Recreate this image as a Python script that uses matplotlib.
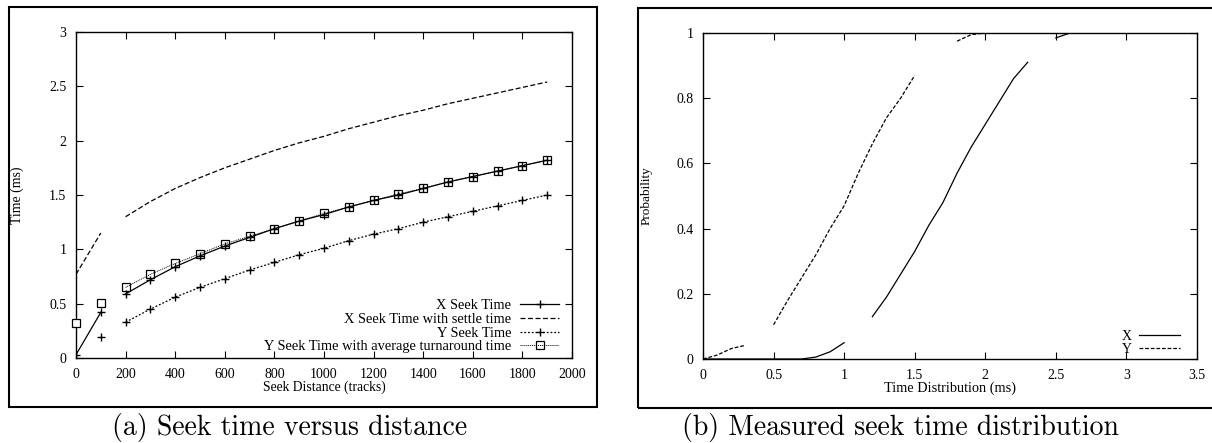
import numpy as np
import matplotlib
matplotlib.use("Agg")
import matplotlib.pyplot as plt
from matplotlib.patches import Rectangle
from matplotlib.ticker import FuncFormatter

# (a) seek time versus distance
dist_short = [0, 100]
dist = [200, 300, 400, 500, 600, 700, 800, 900, 1000, 1100,
        1200, 1300, 1400, 1500, 1600, 1700, 1800, 1900]

x_seek_short = [0.03, 0.42]
x_seek = [0.59, 0.72, 0.84, 0.94, 1.03, 1.11, 1.19, 1.26, 1.32, 1.39,
          1.45, 1.50, 1.56, 1.62, 1.67, 1.72, 1.77, 1.82]

x_settle_short = [0.77, 1.15]
x_settle = [1.30, 1.44, 1.56, 1.66, 1.75, 1.83, 1.91, 1.98, 2.04, 2.11,
            2.17, 2.23, 2.28, 2.34, 2.39, 2.44, 2.49, 2.54]

y_seek_short = [0.19]
y_seek = [0.33, 0.45, 0.56, 0.65, 0.73, 0.81, 0.88, 0.95, 1.01, 1.08,
          1.14, 1.19, 1.25, 1.30, 1.35, 1.40, 1.45, 1.50]

y_turn_short = [0.32, 0.51]
y_turn = [0.65, 0.77, 0.87, 0.96, 1.05, 1.12, 1.19, 1.26, 1.33, 1.39,
          1.45, 1.51, 1.56, 1.62, 1.67, 1.72, 1.77, 1.82]

# (b) measured seek time distribution (pieces of the curves as printed)
x_t1 = [0.0, 0.7, 0.8, 0.9, 1.0]
x_p1 = [0.0, 0.0, 0.006, 0.022, 0.05]
x_t2 = [1.2, 1.3, 1.4, 1.5, 1.6, 1.7, 1.8, 1.9, 2.0, 2.1, 2.2, 2.3]
x_p2 = [0.13, 0.19, 0.26, 0.33, 0.41, 0.48, 0.57, 0.65, 0.72, 0.79, 0.86, 0.91]
x_t3 = [2.5, 2.6, 3.5]
x_p3 = [0.985, 1.0, 1.0]

y_t1 = [0.0, 0.1, 0.2, 0.3]
y_p1 = [0.0, 0.012, 0.032, 0.042]
y_t2 = [0.5, 0.6, 0.7, 0.8, 0.9, 1.0, 1.1, 1.2, 1.3, 1.4, 1.5]
y_p2 = [0.105, 0.18, 0.25, 0.32, 0.40, 0.47, 0.57, 0.66, 0.74, 0.80, 0.87]
y_t3 = [1.8, 1.9, 2.0]
y_p3 = [0.975, 0.995, 1.0]

W, H = 1212, 443
plt.rcParams["font.family"] = "Liberation Serif"

fig = plt.figure(figsize=(W / 100, H / 100), dpi=100)


def frac(x0, y0, x1, y1):
    return [x0 / W, 1 - y1 / H, (x1 - x0) / W, (y1 - y0) / H]


def style(ax):
    ax.tick_params(direction="in", top=True, right=True, length=5,
                   width=0.8, labelsize=10, pad=7)
    for s in ax.spines.values():
        s.set_linewidth(1.0)


def num(v, pos):
    return "%g" % v


# frames around the panels
fig.patches.append(Rectangle((9 / W, 1 - 407 / H), 588 / W, 400 / H,
                             transform=fig.transFigure, fill=False,
                             lw=1.5, ec="black"))
fig.patches.append(Rectangle((638 / W, 1 - 408 / H), 590 / W, 400 / H,
                             transform=fig.transFigure, fill=False,
                             lw=1.5, ec="black", clip_on=False))

# ---- panel (a)
ax1 = fig.add_axes(frac(76, 32, 572, 358))
lw = 0.9
ms = 5.5
ax1.plot(dist_short, x_seek_short, color="black", lw=lw, marker="+", ms=ms)
ax1.plot(dist, x_seek, color="black", lw=lw, marker="+", ms=ms,
         label="X Seek Time")
ax1.plot(dist_short, x_settle_short, color="black", lw=lw, dashes=(4, 2))
ax1.plot(dist, x_settle, color="black", lw=lw, dashes=(4, 2),
         label="X Seek Time with settle time")
ax1.plot([100], y_seek_short, color="black", lw=0, marker="+", ms=ms)
ax1.plot(dist, y_seek, color="black", lw=lw, dashes=(1.5, 1.5), marker="+",
         ms=ms, label="Y Seek Time")
ax1.plot(dist_short, y_turn_short, color="black", lw=0, marker="s", ms=5.5,
         mfc="white", mew=0.9, clip_on=False, zorder=5)
ax1.plot(dist, y_turn, color="black", lw=0.7, dashes=(1, 1), marker="s",
         ms=5.5, mfc="none", mew=0.9,
         label="Y Seek Time with average turnaround time")
ax1.set_xlim(0, 2000)
ax1.set_ylim(0, 3)
ax1.set_xticks(np.arange(0, 2001, 200))
ax1.set_yticks(np.arange(0, 3.01, 0.5))
ax1.yaxis.set_major_formatter(FuncFormatter(num))
style(ax1)
ax1.set_xlabel("Seek Distance (tracks)", fontsize=9.8)
ax1.set_ylabel("Time (ms)", fontsize=10)
ax1.xaxis.set_label_coords(0.5, -0.07)
ax1.yaxis.set_label_coords(-0.105, 0.5)
ax1.legend(loc="lower right", bbox_to_anchor=(1 - 10 / 496, 2 / 326),
           frameon=False, markerfirst=False, fontsize=10.4,
           handlelength=2.7, labelspacing=0.03, borderaxespad=0,
           borderpad=0.2, handletextpad=0.6)

# ---- panel (b)
ax2 = fig.add_axes(frac(703, 33, 1197, 359))
ax2.plot(x_t1, x_p1, color="black", lw=lw)
ax2.plot(x_t2, x_p2, color="black", lw=lw, label="X")
ax2.plot(x_t3, x_p3, color="black", lw=lw)
ax2.plot(y_t1, y_p1, color="black", lw=lw, dashes=(3, 1.5))
ax2.plot(y_t2, y_p2, color="black", lw=lw, dashes=(3, 1.5), label="Y")
ax2.plot(y_t3, y_p3, color="black", lw=lw, dashes=(3, 1.5))
ax2.set_xlim(0, 3.5)
ax2.set_ylim(0, 1)
ax2.set_xticks(np.arange(0, 3.51, 0.5))
ax2.set_yticks(np.arange(0, 1.01, 0.2))
ax2.xaxis.set_major_formatter(FuncFormatter(num))
ax2.yaxis.set_major_formatter(FuncFormatter(num))
style(ax2)
ax2.set_xlabel("Time Distribution (ms)", fontsize=10.3)
ax2.set_ylabel("Probability", fontsize=9.5)
ax2.xaxis.set_label_coords(0.5, -0.07)
ax2.yaxis.set_label_coords(-0.103, 0.5)
ax2.legend(loc="lower right", bbox_to_anchor=(1 - 14 / 494, 0),
           frameon=False, markerfirst=False, fontsize=10,
           handlelength=3.0, labelspacing=0.0, borderaxespad=0,
           borderpad=0.2, handletextpad=0.5)

# captions
fig.text(290 / W, 1 - 427 / H, "(a) Seek time versus distance",
         family="cmr10", fontsize=20, ha="center", va="center")
fig.text(900 / W, 1 - 427 / H, "(b) Measured seek time distribution",
         family="cmr10", fontsize=20, ha="center", va="center")

fig.savefig("out.png", dpi=100)
